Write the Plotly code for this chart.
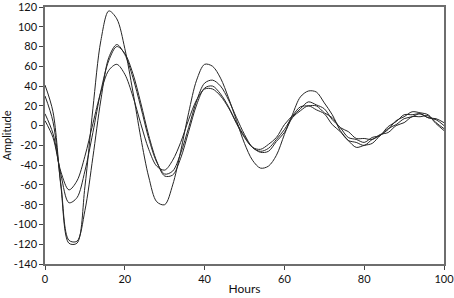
import plotly.graph_objects as go

# sampling times (hours)
hours = list(range(0, 101, 2))

# four amplitude traces, every 2 h
amp_a = [41, 14, -62, -119, -119, -62, 17, 86, 116, 108, 78, 35, -12, -52, -77,
         -80, -60, -26, 13, 46, 62, 60, 48, 28, 5, -18, -35, -43, -41, -30,
         -9, 11, 29, 35, 34, 23, 11, -5, -15, -22, -20, -18, -10, -4, 5,
         9, 14, 13, 11, 3, -3]
amp_b = [30, 4, -60, -116, -117, -86, -32, 26, 69, 82, 72, 49, 19, -13, -37,
         -49, -46, -28, -2, 25, 43, 46, 40, 26, 8, -9, -22, -26, -23, -14,
         -4, 9, 17, 24, 21, 17, 6, -2, -12, -14, -17, -12, -10, -3, 1,
         7, 9, 12, 8, 6, 0]
amp_c = [12, -8, -50, -78, -73, -46, -7, 35, 66, 80, 73, 53, 23, -10, -36,
         -51, -50, -33, -6, 21, 38, 40, 32, 19, 2, -12, -22, -24, -19, -12,
         1, 10, 19, 20, 20, 13, 8, -2, -6, -13, -13, -14, -9, -7, 0,
         3, 9, 9, 10, 2, -5]
amp_d = [5, -12, -47, -65, -56, -31, 2, 34, 56, 62, 52, 30, 2, -24, -41,
         -45, -35, -17, 6, 26, 37, 37, 30, 18, 3, -11, -22, -27, -26, -16,
         -7, 8, 15, 20, 16, 12, 1, -6, -15, -17, -20, -14, -10, -1, 4,
         11, 11, 12, 8, 7, 3]

y_ticks = list(range(-140, 121, 20))
y_labels = [str(v) for v in y_ticks]
x_ticks = [0, 20, 40, 60, 80, 100]
x_labels = [str(v) for v in x_ticks]

fig = go.Figure()
for ys in (amp_a, amp_b, amp_c, amp_d):
    fig.add_trace(go.Scatter(x=hours, y=ys, mode="lines",
                             line=dict(color="#262626", width=1, shape="spline",
                                       smoothing=0.9),
                             showlegend=False))

axis_common = dict(showgrid=False, zeroline=False, showline=True,
                   linecolor="#6e6e6e", linewidth=1.5, mirror=True,
                   ticks="outside", ticklen=4, tickwidth=1, tickcolor="#444",
                   automargin=False, ticklabeloverflow="allow",
                   tickfont=dict(family="Lato", size=11, color="#111"))

fig.update_layout(
    width=454, height=298,
    margin=dict(l=45, r=10, t=7, b=34),
    paper_bgcolor="white", plot_bgcolor="white",
    font=dict(family="Lato", size=11, color="#111"),
    xaxis=dict(range=[0, 100], tickvals=x_ticks, ticktext=x_labels,
               title=dict(text="Hours", standoff=1,
                          font=dict(family="Lato", size=12)),
               **axis_common),
    yaxis=dict(range=[-140, 120], tickvals=y_ticks, ticktext=y_labels,
               title=dict(text="Amplitude", standoff=2,
                          font=dict(family="Lato", size=11)),
               **axis_common),
)

# page body has a default 8px margin; drop it so the figure fills the window
fig.write_html("out.html", config={"displayModeBar": False},
               post_script="document.body.style.margin='0';")
